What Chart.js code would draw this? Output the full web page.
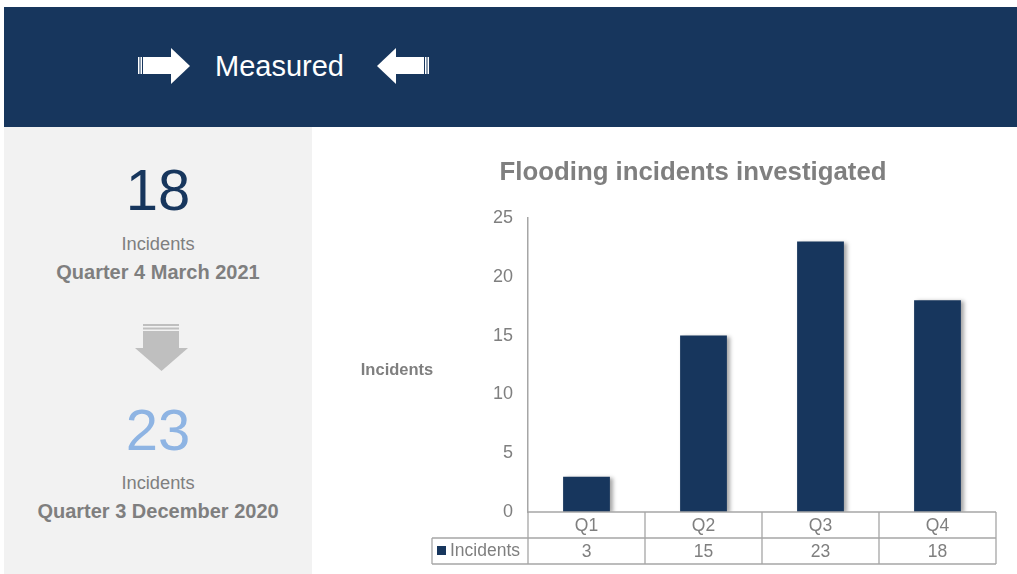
<!DOCTYPE html>
<html>
<head>
<meta charset="utf-8">
<script src="https://cdn.jsdelivr.net/npm/chart.js@4.4.1/dist/chart.umd.min.js"></script>
<style>
  html,body{margin:0;padding:0;background:#fff;overflow:hidden;}
  body{width:1017px;height:574px;position:relative;font-family:"Liberation Sans",Arial,sans-serif;}
  #header{position:absolute;left:4px;top:7px;width:1013px;height:120px;background:#17365D;}
  #measured{position:absolute;left:211px;top:40px;color:#fff;font-size:29px;line-height:38px;}
  #panel{position:absolute;left:4px;top:127px;width:308px;height:447px;background:#F2F2F2;}
  .big{position:absolute;left:0;width:308px;text-align:center;font-size:58px;line-height:60px;}
  .sm{position:absolute;left:0;width:308px;text-align:center;font-size:18.3px;color:#7F7F7F;line-height:20px;}
  .b{font-weight:bold;font-size:20px;}
  svg{position:absolute;}
  #c{position:absolute;left:312px;top:127px;}
</style>
</head>
<body>
<div id="header">
  <svg style="left:134px;top:41px" width="54" height="37" viewBox="0 0 54 37">
    <rect x="0" y="9" width="1.5" height="17" fill="#fff"/>
    <rect x="2.5" y="9" width="1.5" height="17" fill="#fff"/>
    <rect x="5" y="9" width="29" height="17" fill="#fff"/>
    <polygon points="33,0 52,18 33,36" fill="#fff"/>
  </svg>
  <div id="measured">Measured</div>
  <svg style="left:371px;top:41px" width="54" height="37" viewBox="0 0 54 37">
    <polygon points="21,0 2,18 21,36" fill="#fff"/>
    <rect x="20" y="9" width="29" height="17" fill="#fff"/>
    <rect x="50" y="9" width="1.5" height="17" fill="#fff"/>
    <rect x="52.5" y="9" width="1.5" height="17" fill="#fff"/>
  </svg>
</div>
<div id="panel">
  <div class="big" style="top:33px;color:#17365D">18</div>
  <div class="sm" style="top:107px">Incidents</div>
  <div class="sm b" style="top:135px">Quarter 4 March 2021</div>
  <svg style="left:131px;top:197px" width="54" height="48" viewBox="0 0 54 48">
    <rect x="8" y="0" width="36" height="2" fill="#BFBFBF"/>
    <rect x="8" y="3.5" width="36" height="2" fill="#BFBFBF"/>
    <rect x="8" y="7" width="36" height="18" fill="#BFBFBF"/>
    <polygon points="0,24 53,24 26.5,47" fill="#BFBFBF"/>
  </svg>
  <div class="big" style="top:273px;color:#8EB4E3">23</div>
  <div class="sm" style="top:346px">Incidents</div>
  <div class="sm b" style="top:374px">Quarter 3 December 2020</div>
</div>
<canvas id="c" width="705" height="447"></canvas>
<script>
const categories = ["Q1", "Q2", "Q3", "Q4"];
const seriesName = "Incidents";
const incidents = [3, 15, 23, 18];
const yTicks = [0, 5, 10, 15, 20, 25];
const chartTitle = "Flooding incidents investigated";
const yAxisTitle = "Incidents";

const GREY = "#7F7F7F";
const LINE = "#A6A6A6";
const BAR = "#17365D";
const FONT = "'Liberation Sans', Arial, sans-serif";

const shadowPlugin = {
  id: "barShadow",
  beforeDatasetsDraw(chart) {
    const ctx = chart.ctx;
    ctx.save();
    ctx.shadowColor = "rgba(0,0,0,0.35)";
    ctx.shadowBlur = 4;
    ctx.shadowOffsetX = 3;
    ctx.shadowOffsetY = 1;
  },
  afterDatasetsDraw(chart) { chart.ctx.restore(); }
};

const extrasPlugin = {
  id: "extras",
  afterDraw(chart) {
    const ctx = chart.ctx;
    const x = chart.scales.x;
    const area = chart.chartArea;
    ctx.save();
    // title
    ctx.fillStyle = GREY;
    ctx.font = "bold 25.8px " + FONT;
    ctx.textAlign = "center";
    ctx.textBaseline = "middle";
    ctx.fillText(chartTitle, 381, 46);
    // y axis title
    ctx.font = "bold 16.5px " + FONT;
    ctx.fillText(yAxisTitle, 85, (area.top + area.bottom) / 2 + 5);
    // data table
    const n = categories.length;
    const w = (x.right - x.left) / n;
    const rowH = 26;
    const top = area.bottom;
    const legendLeft = 120;
    ctx.strokeStyle = LINE;
    ctx.lineWidth = 1.3;
    ctx.beginPath();
    ctx.moveTo(area.left, top); ctx.lineTo(area.right, top);
    ctx.moveTo(legendLeft, top + rowH); ctx.lineTo(area.right, top + rowH);
    ctx.moveTo(legendLeft, top + 2 * rowH); ctx.lineTo(area.right, top + 2 * rowH);
    ctx.moveTo(legendLeft, top + rowH); ctx.lineTo(legendLeft, top + 2 * rowH);
    for (let i = 0; i <= n; i++) {
      const bx = x.getPixelForValue(0) - w / 2 + i * w;
      ctx.moveTo(bx, top); ctx.lineTo(bx, top + 2 * rowH);
    }
    ctx.stroke();
    ctx.font = "17.5px " + FONT;
    ctx.fillStyle = GREY;
    categories.forEach((c, i) => {
      const cx = x.getPixelForValue(i);
      ctx.fillText(c, cx, top + rowH / 2 + 1);
      ctx.fillText(String(incidents[i]), cx, top + rowH * 1.5 + 1);
    });
    ctx.fillStyle = BAR;
    ctx.fillRect(legendLeft + 5, top + rowH + 8, 9, 9);
    ctx.fillStyle = GREY;
    ctx.textAlign = "left";
    ctx.fillText(seriesName, legendLeft + 18, top + rowH * 1.5);
    ctx.restore();
  }
};

new Chart(document.getElementById("c"), {
  type: "bar",
  data: {
    labels: categories,
    datasets: [{
      label: seriesName,
      data: incidents,
      backgroundColor: BAR,
      borderWidth: 0,
      barPercentage: 0.4,
      categoryPercentage: 1.0
    }]
  },
  options: {
    responsive: false,
    animation: false,
    layout: { padding: { top: 91, right: 21, bottom: 62, left: 0 } },
    plugins: { legend: { display: false }, tooltip: { enabled: false }, title: { display: false } },
    scales: {
      x: { display: false, offset: true },
      y: {
        min: 0, max: 25,
        afterFit(s) { s.width = 216; },
        afterBuildTicks(s) { s.ticks = yTicks.map(v => ({ value: v })); },
        grid: { display: false, drawTicks: false },
        border: { display: true, color: LINE, width: 1.5 },
        ticks: { color: GREY, padding: 15, font: { size: 18, family: FONT } }
      }
    }
  },
  plugins: [shadowPlugin, extrasPlugin]
});
</script>
</body>
</html>
